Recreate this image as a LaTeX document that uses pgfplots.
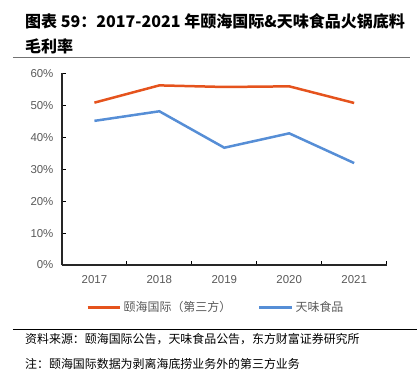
\documentclass[border=0pt]{standalone}
\usepackage{fontspec}
\usepackage{pgfplots}
\pgfplotsset{compat=1.18}
\setmainfont{Noto Sans CJK SC}
\newfontfamily\latin{Liberation Sans}
\definecolor{orangeC}{RGB}{229,83,29}
\definecolor{blueC}{RGB}{86,142,214}
\definecolor{tickgray}{RGB}{89,89,89}
\begin{document}
\begin{tikzpicture}
\path (0bp,0bp) rectangle (417bp,-377bp);
\node[anchor=base west, inner sep=0pt, font=\fontsize{16.1}{18}\selectfont\bfseries] at (25bp,-28bp) {图表 59：2017-2021 年颐海国际\&天味食品火锅底料};
\node[anchor=base west, inner sep=0pt, font=\fontsize{16.1}{18}\selectfont\bfseries] at (25bp,-53bp) {毛利率};
\draw[black!55, line width=1bp] (13bp,-58bp) -- (410bp,-58bp);
\begin{axis}[
  at={(62bp,-265.3bp)}, anchor=south west,
  scale only axis, width=325bp, height=192bp,
  xmin=-0.5, xmax=4.5, ymin=0, ymax=60,
  axis lines=left, axis line style={-, line width=1.2bp, draw=black!85},
  xtick={0,...,4}, xticklabels={2017,2018,2019,2020,2021},
  minor xtick={-0.5,0.5,...,4.5},
  ytick={0,10,...,60},
  yticklabel={\pgfmathprintnumber{\tick}\%},
  tick align=inside,
  major tick length=4bp, minor tick length=4bp,
  major x tick style={draw=none},
  minor x tick style={black, line width=1bp},
  major y tick style={black, line width=1bp},
  tick label style={font=\latin\fontsize{11.5}{12}\selectfont, text=tickgray},
  /pgf/number format/assume math mode=true,
  yticklabel style={xshift=-5bp},
  xticklabel style={yshift=-7bp},
  clip=false,
  legend style={at={(0.474,-0.221)}, anchor=center, draw=none, fill=none,
    legend columns=2, font=\fontsize{12}{14}\selectfont, text=tickgray,
    /tikz/every even column/.append style={column sep=25bp}},
  legend image code/.code={\draw[#1] (0bp,0bp) -- (33bp,0bp);},
]
\addplot[color=orangeC, line width=2.5bp, mark=none] coordinates {(0,50.8) (1,56.2) (2,55.7) (3,55.9) (4,50.7)};
\addlegendentry{颐海国际（第三方）}
\addplot[color=blueC, line width=2.5bp, mark=none] coordinates {(0,45.1) (1,48.1) (2,36.7) (3,41.2) (4,31.9)};
\addlegendentry{天味食品}
\end{axis}
\draw[black, line width=0.8bp] (13bp,-330bp) -- (417bp,-330bp);
\node[anchor=base west, inner sep=0pt, font=\fontsize{12}{14}\selectfont] at (25bp,-344bp) {资料来源：颐海国际公告，天味食品公告，东方财富证券研究所};
\node[anchor=base west, inner sep=0pt, font=\fontsize{12}{14}\selectfont] at (25bp,-368.5bp) {注：颐海国际数据为剥离海底捞业务外的第三方业务};
\end{tikzpicture}
\end{document}
